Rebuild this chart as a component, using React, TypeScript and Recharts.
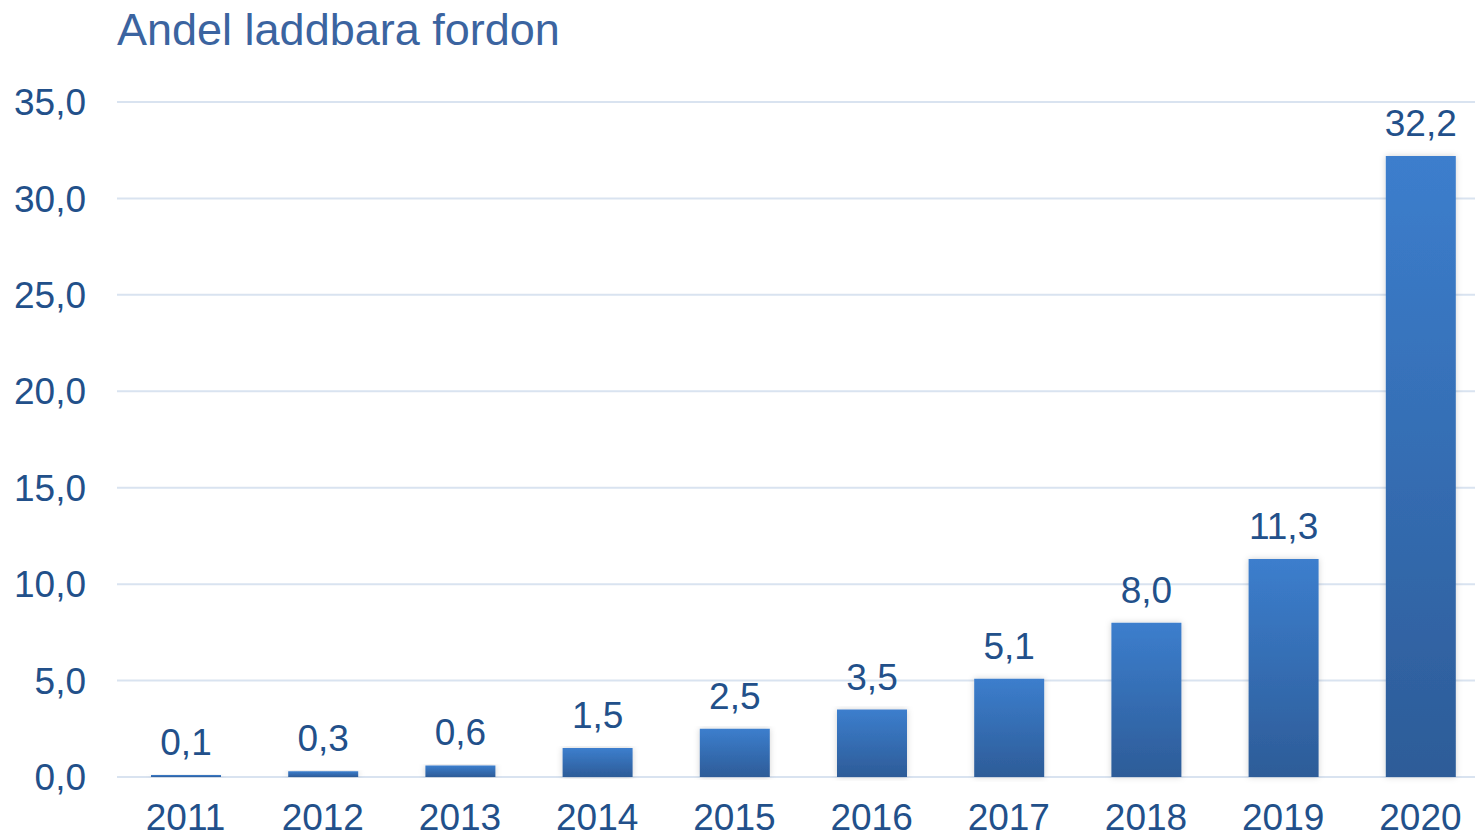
import { Bar, BarChart, CartesianGrid, LabelList, XAxis, YAxis } from "recharts";

const years = ["2011", "2012", "2013", "2014", "2015", "2016", "2017", "2018", "2019", "2020"];
const shares = [0.1, 0.3, 0.6, 1.5, 2.5, 3.5, 5.1, 8.0, 11.3, 32.2];
const yTicks = [0, 5, 10, 15, 20, 25, 30, 35];

const data = years.map((year, i) => ({ year, share: shares[i] }));

const fmt = (v: number) => v.toFixed(1).replace(".", ",");

const textColor = "#22508a";

export default function App() {
  return (
    <div style={{ position: "absolute", left: 0, top: 0, width: 1475, height: 836, overflow: "hidden", fontFamily: "'Liberation Sans', Arial, sans-serif" }}>
      <div
        style={{
          position: "absolute",
          left: 117,
          top: 4,
          fontSize: 45,
          color: "#3b64a0",
          lineHeight: "52px",
          whiteSpace: "nowrap",
        }}
      >
        Andel laddbara fordon
      </div>
      <BarChart
        width={1475}
        height={836}
        data={data}
        margin={{ top: 102, right: -14, bottom: 0, left: 0 }}
      >
        <defs>
          <linearGradient id="barFill" x1="0" y1="0" x2="0" y2="1">
            <stop offset="0%" stopColor="#3c7ecd" />
            <stop offset="100%" stopColor="#2d5c98" />
          </linearGradient>
          <filter id="barShadow" x="-20%" y="-5%" width="140%" height="110%">
            <feDropShadow dx="0" dy="0" stdDeviation="3" floodColor="#000" floodOpacity="0.18" />
          </filter>
        </defs>
        <CartesianGrid vertical={false} stroke="#d9e3f0" strokeWidth={2} />
        <XAxis
          dataKey="year"
          axisLine={false}
          tickLine={false}
          tickSize={0}
          tickMargin={27}
          height={59}
          interval={0}
          tick={{ fill: textColor, fontSize: 37 }}
        />
        <YAxis
          domain={[0, 35]}
          ticks={yTicks}
          axisLine={false}
          tickLine={false}
          tickSize={0}
          tickMargin={31}
          width={117}
          tickFormatter={fmt}
          tick={{ fill: textColor, fontSize: 37 }}
        />
        <Bar
          dataKey="share"
          barSize={70}
          fill="url(#barFill)"
          filter="url(#barShadow)"
          isAnimationActive={false}
        >
          <LabelList
            dataKey="share"
            position="top"
            offset={20}
            formatter={(v: any) => fmt(Number(v))}
            fill={textColor}
            fontSize={37}
          />
        </Bar>
      </BarChart>
    </div>
  );
}
